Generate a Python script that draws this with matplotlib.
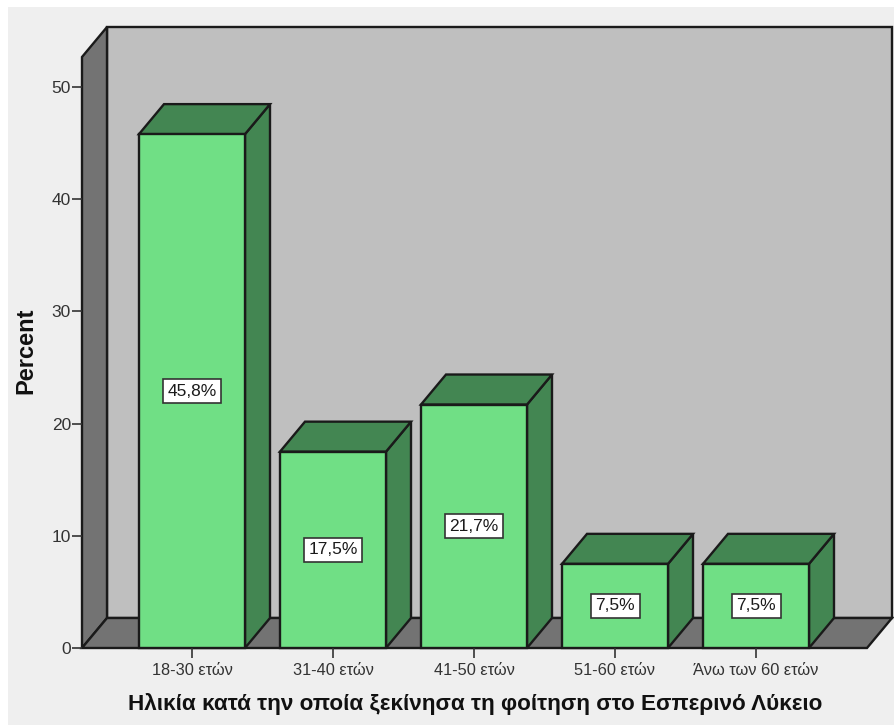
import matplotlib
matplotlib.use('Agg')
import matplotlib.pyplot as plt
from matplotlib.patches import Polygon, Rectangle

categories = ['18-30 ετών', '31-40 ετών', '41-50 ετών', '51-60 ετών', 'Άνω των 60 ετών']
percent = [45.8, 17.5, 21.7, 7.5, 7.5]
value_labels = ['45,8%', '17,5%', '21,7%', '7,5%', '7,5%']
yticks = [0, 10, 20, 30, 40, 50]

plt.rcParams['font.family'] = ['Liberation Sans', 'DejaVu Sans']

W, H = 894, 725
fig = plt.figure(figsize=(W / 100, H / 100), dpi=100, facecolor='white')

# gray panel behind everything
fig.add_artist(Rectangle((8 / W, 0), (W - 8) / W, (H - 7) / H, transform=fig.transFigure,
                         facecolor='#efefef', edgecolor='none', zorder=-1))

# axes runs from the front left corner to the back right corner
ax = fig.add_axes([82 / W, (H - 648) / H, (892 - 82) / W, (648 - 27) / H])
ax.patch.set_visible(False)
for s in ax.spines.values():
    s.set_visible(False)

px_x = 141.0    # pixels per category
px_y = 11.22    # pixels per percent
ax.set_xlim((82 - 192) / px_x, (892 - 192) / px_x)
ax.set_ylim(0, 621 / px_y)

dx = 25 / px_x  # depth of the 3d effect
dy = 30 / px_y
bw = 106 / px_x
x0 = ax.get_xlim()[0]
x1 = ax.get_xlim()[1]
top = ax.get_ylim()[1]
line = dict(edgecolor='#1a1a1a', linewidth=1.7, joinstyle='miter', clip_on=False)

# walls and floor
ax.add_patch(Polygon([(x0 + dx, dy), (x1, dy), (x1, top), (x0 + dx, top)],
                     facecolor='#bfbfbf', **line))
ax.add_patch(Polygon([(x0, 0), (x0 + dx, dy), (x0 + dx, top), (x0, top - dy)],
                     facecolor='#737373', **line))
ax.add_patch(Polygon([(x0, 0), (x1 - dx, 0), (x1, dy), (x0 + dx, dy)],
                     facecolor='#737373', **line))

# bars
for i, v in enumerate(percent):
    l = i - bw / 2
    r = i + bw / 2
    ax.add_patch(Polygon([(r, 0), (r + dx, dy), (r + dx, v + dy), (r, v)],
                         facecolor='#438652', **line))
    ax.add_patch(Polygon([(l, v), (r, v), (r + dx, v + dy), (l + dx, v + dy)],
                         facecolor='#438652', **line))
    ax.add_patch(Polygon([(l, 0), (r, 0), (r, v), (l, v)],
                         facecolor='#70df85', **line))
    ax.text(i, v / 2, value_labels[i], ha='center', va='center', fontsize=12.5,
            color='#1a1a1a', zorder=5,
            bbox=dict(boxstyle='square,pad=0.27', facecolor='white',
                      edgecolor='#333333', linewidth=1.2))

ax.set_xticks(range(len(categories)))
ax.set_xticklabels(categories)
ax.set_yticks(yticks)
ax.tick_params(axis='x', length=7, width=1.2, color='#333333', labelsize=11.8,
               labelcolor='#333333', pad=4)
ax.tick_params(axis='y', length=7, width=1.2, color='#333333', labelsize=12.5,
               labelcolor='#333333', pad=1)

fig.text(475 / W, (H - 704) / H, 'Ηλικία κατά την οποία ξεκίνησα τη φοίτηση στο Εσπερινό Λύκειο',
         ha='center', va='center', fontsize=16.2, fontweight='bold', color='#111111')
fig.text(26 / W, (H - 351) / H, 'Percent', rotation=90, ha='center', va='center',
         fontsize=17, fontweight='bold', color='#111111')

fig.savefig('out.png', dpi=100, facecolor='white')
